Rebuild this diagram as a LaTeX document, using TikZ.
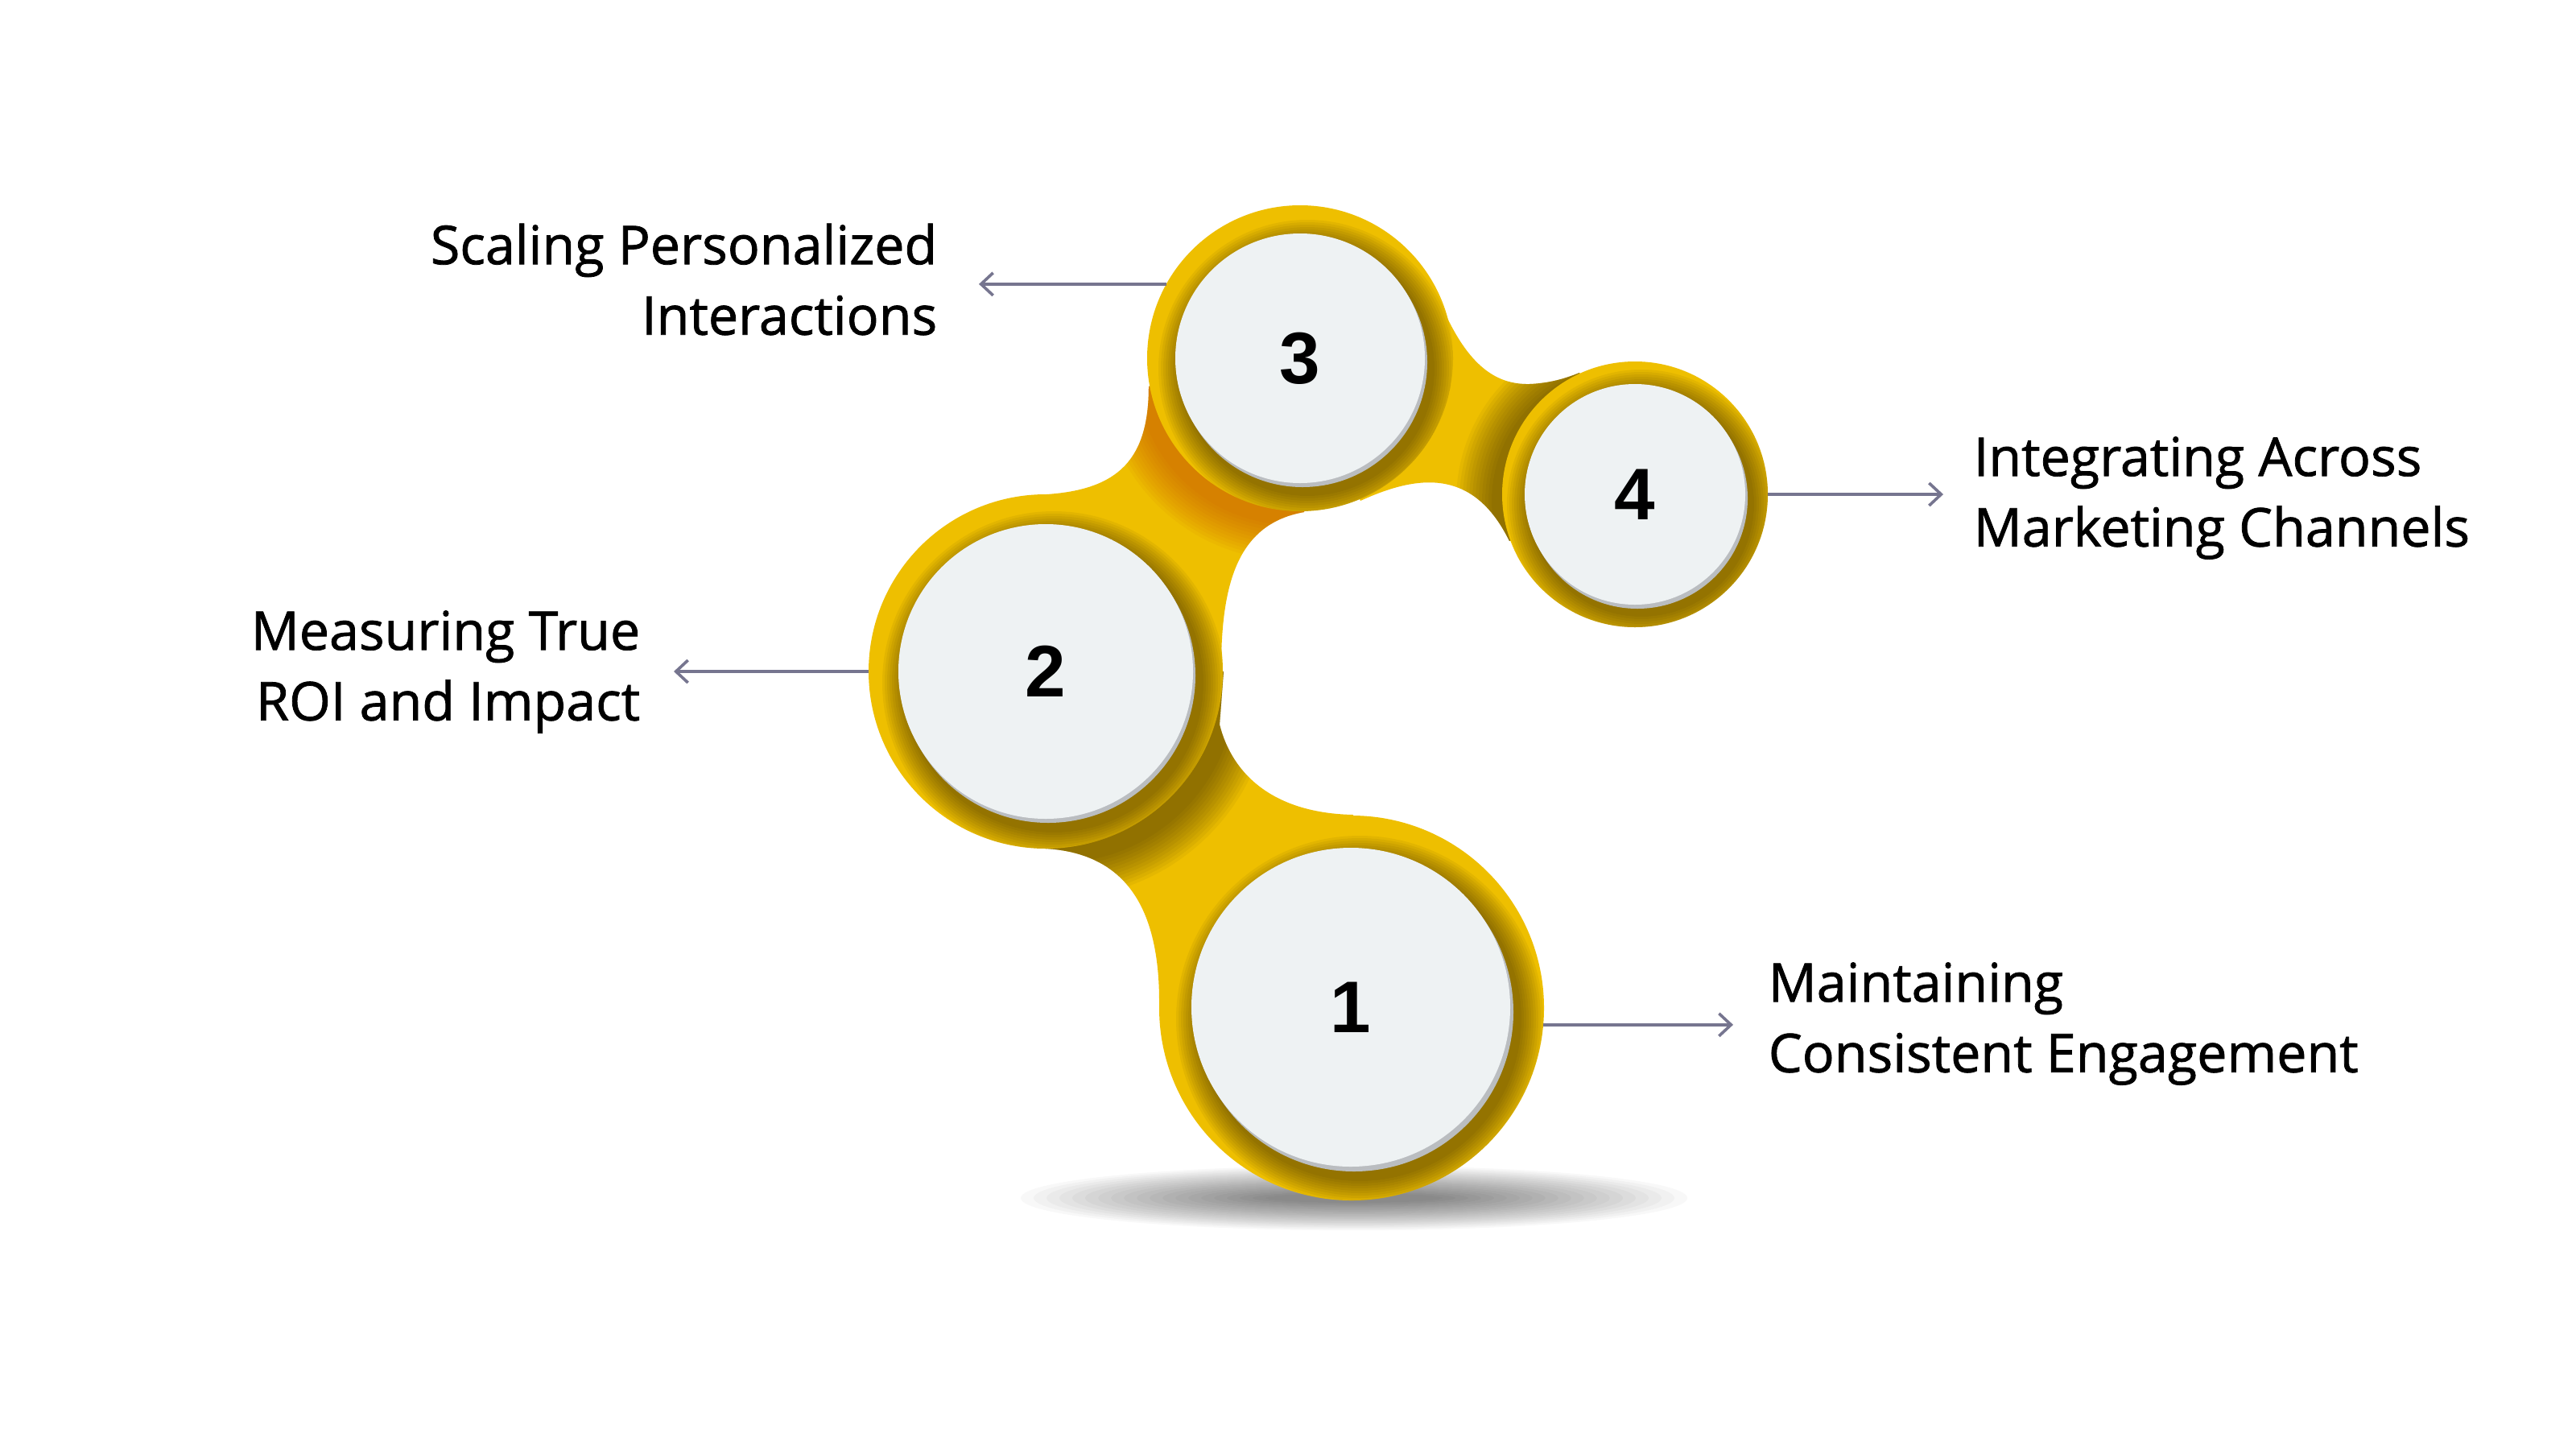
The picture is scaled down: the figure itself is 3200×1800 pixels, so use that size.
\documentclass[tikz,border=0pt]{standalone}
\usepackage{fontspec}
\setmainfont{Open Sans}
\newfontfamily\lblfont{Open Sans}[FakeBold=1.2]
\newfontfamily\numfont{Liberation Sans}
\usetikzlibrary{arrows.meta}
\definecolor{goldc}{RGB}{238,191,0}
\definecolor{discc}{RGB}{238,242,243}
\definecolor{rimc}{RGB}{186,189,192}
\definecolor{arrowc}{RGB}{118,117,143}
\definecolor{shadowc}{RGB}{50,35,0}
\definecolor{orangec}{RGB}{200,80,0}
\newcommand\bridgeA{(1300,834) -- (1299,1054) .. controls (1400,1060) and (1440,1130) .. (1440,1244) -- (1679,1252) -- (1681,1012) .. controls (1580,1010) and (1530,960) .. (1515,900) -- (1520,834) -- cycle}
\newcommand\bridgeB{(1300,834) -- (1300,614) .. controls (1390,608) and (1427,570) .. (1427,480) -- (1615,445) -- (1620,636) .. controls (1540,650) and (1517,720) .. (1517,830) -- cycle}
\newcommand\bridgeC{(1615,445) -- (1788,373) .. controls (1820,450) and (1855,478) .. (1900,477) .. controls (1925,476) and (1945,470) .. (1962,463) -- (2031,614) -- (1875,672) .. controls (1830,580) and (1760,590) .. (1690,622) -- cycle}
\begin{document}
\begin{tikzpicture}[x=0.25pt,y=-0.25pt,
  outerdisc/.style={circle,fill=goldc,inner sep=0,outer sep=0},
  innerdisc/.style={circle,fill=discc,inner sep=0,outer sep=0,font=\numfont\bfseries\fontsize{22.7}{26}\selectfont},
  txt/.style={inner sep=0,font=\lblfont\fontsize{16.6}{21.9}\selectfont},
  arr/.style={draw=arrowc,line width=0.9pt,-{Straight Barb[length=3.75pt,width=7pt]}}
]
\useasboundingbox[fill=white] (0,0) rectangle (3200,1800);

% ground shadow
\foreach \k in {0,...,19} \fill[black,opacity=0.028] (1682,1488) ellipse ({110+16*\k} and {6+1.8*\k});

% bridges
\fill[goldc] \bridgeA;
\fill[goldc] \bridgeB;
\fill[goldc] \bridgeC;

% shadows of the outer discs on the bridges
\begin{scope}
\clip \bridgeA;
\foreach \k in {1,...,12} \fill[shadowc,opacity=0.05] (1312,848) circle ({220+4*\k});
\end{scope}
\begin{scope}
\clip \bridgeB;
\foreach \k in {1,...,12} \fill[orangec,opacity=0.06] (1605,458) circle ({190+4*\k});
\end{scope}
\begin{scope}
\clip \bridgeC;
\foreach \k in {1,...,12} \fill[shadowc,opacity=0.05] (2022,622) circle ({165+4*\k});
\end{scope}

% outer discs
\node[outerdisc,minimum size=119.5pt] (c1) at (1679,1252) {};
\node[outerdisc,minimum size=110pt] (c2) at (1299,834) {};
\node[outerdisc,minimum size=95pt] (c3) at (1615,445) {};
\node[outerdisc,minimum size=82.5pt] (c4) at (2031,614) {};

% shadows of the white discs on the outer discs
\begin{scope}
\clip (1679,1252) circle (239);
\foreach \k in {1,...,10} \fill[shadowc,opacity=0.06] (1689,1266) circle ({198+3*\k});
\end{scope}
\begin{scope}
\clip (1299,834) circle (220);
\foreach \k in {1,...,10} \fill[shadowc,opacity=0.06] (1309,848) circle ({183+3*\k});
\end{scope}
\begin{scope}
\clip (1615,445) circle (190);
\foreach \k in {1,...,10} \fill[shadowc,opacity=0.06] (1624,458) circle ({155+3*\k});
\end{scope}
\begin{scope}
\clip (2031,614) circle (165);
\foreach \k in {1,...,10} \fill[shadowc,opacity=0.06] (2039,626) circle ({137+3*\k});
\end{scope}

% rims
\fill[rimc] (1682,1257) circle (198);
\fill[rimc] (1302,839) circle (183);
\fill[rimc] (1618,450) circle (155);
\fill[rimc] (2034,619) circle (137);

% white discs with numbers
\node[innerdisc,minimum size=99pt] (n1) at (1678,1251) {1};
\node[innerdisc,minimum size=91.5pt] (n2) at (1299,834) {2};
\node[innerdisc,minimum size=77.5pt] (n3) at (1615,445) {3};
\node[innerdisc,minimum size=68.5pt] (n4) at (2031,614) {4};

% labels
\node[txt,anchor=north east,align=right] (t3) at (1165,266) {\strut Scaling Personalized\\\strut Interactions};
\node[txt,anchor=north east,align=right] (t2) at (796,745) {\strut Measuring True\\\strut ROI and Impact};
\node[txt,anchor=north west,align=left] (t4) at (2451,529) {\strut Integrating Across\\\strut Marketing Channels};
\node[txt,anchor=north west,align=left] (t1) at (2196,1182) {\strut Maintaining\\\strut Consistent Engagement};

% arrows
\coordinate (a3) at (1216,353);
\coordinate (a2) at (837,834);
\coordinate (a4) at (2414,614);
\coordinate (a1) at (2153,1273);
\draw[arr] (c3.151) -- (c3.151 -| a3);
\draw[arr] (c2.west) -- (c2.west -| a2);
\draw[arr] (c4.east) -- (c4.east -| a4);
\draw[arr] (c1.-5) -- (c1.-5 -| a1);
\end{tikzpicture}
\end{document}
